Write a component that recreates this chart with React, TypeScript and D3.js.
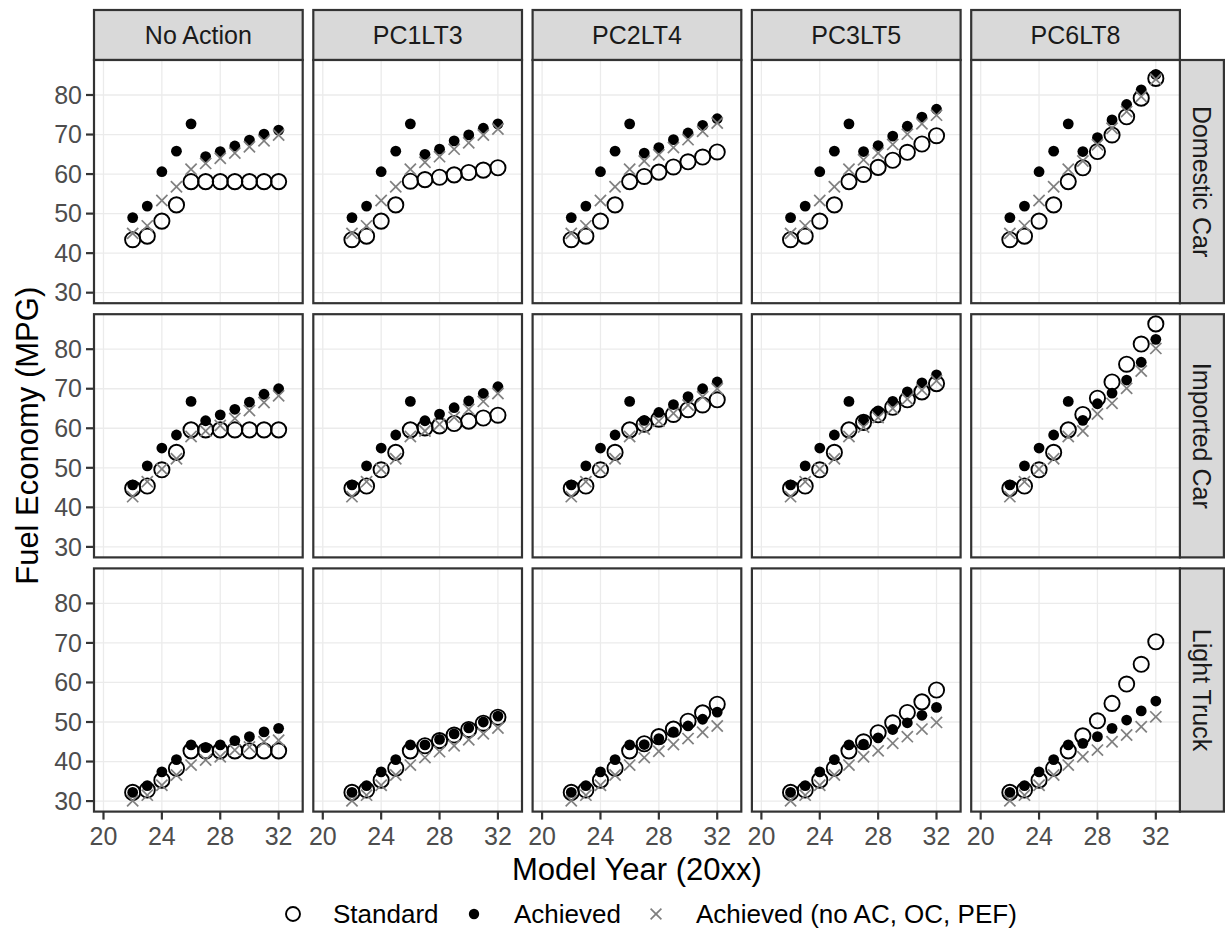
import React from "react";
import * as d3 from "d3";

const scenarios = ["No Action", "PC1LT3", "PC2LT4", "PC3LT5", "PC6LT8"];
const fleets = ["Domestic Car", "Imported Car", "Light Truck"];
const modelYears = [22, 23, 24, 25, 26, 27, 28, 29, 30, 31, 32];
const xTicks = [20, 24, 28, 32];
const yTicks = [30, 40, 50, 60, 70, 80];
const legendLabels = ["Standard", "Achieved", "Achieved (no AC, OC, PEF)"];

// rows: scenarios in order
const domesticStandard = [
  [43.4, 44.3, 48.1, 52.2, 58.1, 58.1, 58.1, 58.1, 58.1, 58.1, 58.1],
  [43.4, 44.3, 48.1, 52.2, 58.2, 58.6, 59.2, 59.8, 60.4, 61.0, 61.6],
  [43.4, 44.3, 48.1, 52.2, 58.1, 59.4, 60.5, 61.8, 63.1, 64.3, 65.6],
  [43.4, 44.3, 48.1, 52.2, 58.1, 59.9, 61.7, 63.5, 65.5, 67.6, 69.7],
  [43.4, 44.3, 48.1, 52.2, 58.1, 61.6, 65.7, 69.9, 74.5, 79.2, 84.2],
];
const domesticAchieved = [
  [49.0, 51.9, 60.6, 65.8, 72.7, 64.4, 65.7, 67.1, 68.6, 70.1, 71.1],
  [49.0, 51.9, 60.6, 65.8, 72.7, 65.0, 66.3, 68.4, 69.9, 71.6, 72.7],
  [49.0, 51.9, 60.6, 65.8, 72.7, 65.3, 66.7, 68.7, 70.4, 72.3, 74.0],
  [49.0, 51.9, 60.6, 65.8, 72.7, 65.7, 67.2, 69.6, 72.1, 74.4, 76.4],
  [49.0, 51.9, 60.6, 65.8, 72.7, 65.7, 69.2, 73.7, 77.6, 81.3, 85.2],
];
const domesticNoAc = [
  [45.0, 46.9, 53.3, 56.8, 61.2, 62.7, 64.0, 65.3, 66.9, 68.4, 69.9],
  [45.0, 46.9, 53.3, 56.8, 61.2, 63.0, 64.4, 66.3, 67.9, 69.9, 71.4],
  [45.0, 46.9, 53.3, 56.8, 61.2, 63.3, 64.9, 66.7, 68.7, 70.8, 72.9],
  [45.0, 46.9, 53.3, 56.8, 61.2, 63.6, 65.3, 67.5, 70.1, 72.7, 74.9],
  [45.0, 46.9, 53.3, 56.8, 61.2, 63.3, 67.4, 71.6, 75.8, 79.6, 84.0],
];

const importedStandard = [
  [44.8, 45.4, 49.5, 53.9, 59.6, 59.6, 59.6, 59.6, 59.6, 59.6, 59.6],
  [44.8, 45.4, 49.5, 53.9, 59.6, 60.1, 60.6, 61.2, 61.8, 62.6, 63.3],
  [44.8, 45.4, 49.5, 53.9, 59.6, 61.0, 62.3, 63.5, 64.7, 65.9, 67.2],
  [44.8, 45.4, 49.5, 53.9, 59.6, 61.5, 63.4, 65.3, 67.2, 69.2, 71.3],
  [44.8, 45.4, 49.5, 53.9, 59.6, 63.5, 67.6, 71.7, 76.2, 81.3, 86.4],
];
const importedAchieved = [
  [45.7, 50.5, 55.0, 58.3, 66.8, 61.9, 63.4, 64.8, 66.6, 68.6, 70.0],
  [45.7, 50.5, 55.0, 58.3, 66.8, 61.9, 63.6, 65.2, 66.9, 68.8, 70.5],
  [45.7, 50.5, 55.0, 58.3, 66.8, 62.0, 64.0, 66.0, 68.0, 70.0, 71.7],
  [45.7, 50.5, 55.0, 58.3, 66.8, 62.0, 64.4, 66.8, 69.2, 71.5, 73.5],
  [45.7, 50.5, 55.0, 58.3, 66.8, 62.0, 66.2, 68.9, 72.2, 76.7, 82.5],
];
const importedNoAc = [
  [42.7, 46.5, 49.7, 52.3, 57.9, 59.3, 60.7, 62.5, 64.5, 66.5, 68.2],
  [42.7, 46.5, 49.7, 52.3, 57.9, 59.3, 61.0, 62.8, 64.8, 66.8, 68.8],
  [42.7, 46.5, 49.7, 52.3, 57.9, 59.8, 61.8, 63.8, 65.9, 68.0, 70.0],
  [42.7, 46.5, 49.7, 52.3, 57.9, 60.3, 62.7, 65.0, 67.4, 69.7, 72.0],
  [42.7, 46.5, 49.7, 52.3, 57.9, 59.3, 63.6, 66.3, 70.1, 74.5, 80.2],
];

const truckStandard = [
  [32.2, 32.8, 35.3, 38.3, 42.7, 42.7, 42.7, 42.7, 42.7, 42.7, 42.7],
  [32.2, 32.8, 35.3, 38.3, 42.7, 44.0, 45.3, 46.7, 48.1, 49.7, 51.2],
  [32.2, 32.8, 35.3, 38.3, 42.7, 44.5, 46.3, 48.2, 50.2, 52.3, 54.5],
  [32.2, 32.8, 35.3, 38.3, 42.7, 45.0, 47.3, 49.8, 52.4, 55.1, 58.1],
  [32.2, 32.8, 35.3, 38.3, 42.7, 46.5, 50.3, 54.7, 59.6, 64.6, 70.3],
];
const truckAchieved = [
  [32.2, 33.9, 37.4, 40.5, 44.2, 43.5, 44.2, 45.3, 46.3, 47.5, 48.4],
  [32.2, 33.9, 37.4, 40.5, 44.2, 44.2, 45.6, 47.0, 48.5, 50.0, 51.5],
  [32.2, 33.9, 37.4, 40.5, 44.2, 44.3, 45.8, 47.5, 49.0, 50.7, 52.5],
  [32.2, 33.9, 37.4, 40.5, 44.2, 44.4, 46.0, 48.1, 49.8, 51.7, 53.7],
  [32.2, 33.9, 37.4, 40.5, 44.2, 44.6, 46.3, 48.4, 50.5, 52.8, 55.3],
];
const truckNoAc = [
  [30.1, 31.5, 34.0, 36.6, 39.1, 40.4, 41.2, 42.9, 43.7, 45.0, 45.4],
  [30.1, 31.5, 34.0, 36.6, 39.1, 41.0, 42.5, 44.0, 45.5, 47.0, 48.5],
  [30.1, 31.5, 34.0, 36.6, 39.1, 41.0, 42.6, 44.3, 45.8, 47.4, 49.0],
  [30.1, 31.5, 34.0, 36.6, 39.1, 41.2, 42.7, 44.6, 46.3, 48.2, 49.9],
  [30.1, 31.5, 34.0, 36.6, 39.1, 41.2, 42.9, 45.0, 46.7, 48.8, 51.3],
];

const standardByFleet = [domesticStandard, importedStandard, truckStandard];
const achievedByFleet = [domesticAchieved, importedAchieved, truckAchieved];
const noAcByFleet = [domesticNoAc, importedNoAc, truckNoAc];

const W = 1225;
const H = 932;
const FONT = "'Liberation Sans', Arial, Helvetica, sans-serif";

const panelLeft = 94;
const panelW = 208.7;
const colStep = 219.3;
const panelTop = 60;
const panelH = 243.2;
const rowStep = 254.2;
const stripH = 50;
const stripW = 44;

const x = d3.scaleLinear().domain([19.35, 33.65]).range([0, panelW]);
const y = d3.scaleLinear().domain([27.34, 88.85]).range([panelH, 0]);

const CROSS_COLOR = "#7f7f7f";

function Cross({ cx, cy, s, w }: { cx: number; cy: number; s: number; w: number }) {
  return (
    <g stroke={CROSS_COLOR} strokeWidth={w} strokeLinecap="butt">
      <line x1={cx - s} y1={cy - s} x2={cx + s} y2={cy + s} />
      <line x1={cx - s} y1={cy + s} x2={cx + s} y2={cy - s} />
    </g>
  );
}

function Panel({ fi, si }: { fi: number; si: number }) {
  const px = panelLeft + si * colStep;
  const py = panelTop + fi * rowStep;
  const std = standardByFleet[fi][si];
  const ach = achievedByFleet[fi][si];
  const noac = noAcByFleet[fi][si];
  return (
    <g transform={`translate(${px},${py})`}>
      <rect x={0} y={0} width={panelW} height={panelH} fill="white" />
      {xTicks.map((t) => (
        <line key={"gx" + t} x1={x(t)} x2={x(t)} y1={0} y2={panelH} stroke="#ebebeb" strokeWidth={1.3} />
      ))}
      {yTicks.map((t) => (
        <line key={"gy" + t} x1={0} x2={panelW} y1={y(t)} y2={y(t)} stroke="#ebebeb" strokeWidth={1.3} />
      ))}
      {modelYears.map((yr, i) => (
        <circle key={"s" + i} cx={x(yr)} cy={y(std[i])} r={7.6} fill="none" stroke="#000" strokeWidth={1.9} />
      ))}
      {modelYears.map((yr, i) => (
        <circle key={"a" + i} cx={x(yr)} cy={y(ach[i])} r={5.4} fill="#000" />
      ))}
      {modelYears.map((yr, i) => (
        <Cross key={"n" + i} cx={x(yr)} cy={y(noac[i])} s={5.6} w={1.7} />
      ))}
      <rect x={0} y={0} width={panelW} height={panelH} fill="none" stroke="#333" strokeWidth={2.2} />
      {fi === fleets.length - 1 &&
        xTicks.map((t) => (
          <g key={"tx" + t}>
            <line x1={x(t)} x2={x(t)} y1={panelH} y2={panelH + 8} stroke="#333" strokeWidth={2.2} />
            <text x={x(t)} y={panelH + 33} textAnchor="middle" fontSize={25} fill="#4d4d4d" fontFamily={FONT}>
              {t}
            </text>
          </g>
        ))}
      {si === 0 &&
        yTicks.map((t) => (
          <g key={"ty" + t}>
            <line x1={-8} x2={0} y1={y(t)} y2={y(t)} stroke="#333" strokeWidth={2.2} />
            <text x={-12} y={y(t)} dy="0.35em" textAnchor="end" fontSize={25} fill="#4d4d4d" fontFamily={FONT}>
              {t}
            </text>
          </g>
        ))}
    </g>
  );
}

export default function App() {
  const gridRight = panelLeft + (scenarios.length - 1) * colStep + panelW;
  const gridBottom = panelTop + (fleets.length - 1) * rowStep + panelH;
  const centerX = (panelLeft + gridRight) / 2;
  const centerY = (panelTop + gridBottom) / 2;
  const legendY = 914;
  const legendKeys = [293, 474, 656];
  return (
    <svg width={W} height={H} style={{ display: "block", position: "absolute", left: 0, top: 0 }}>
      <rect width={W} height={H} fill="white" />
      {scenarios.map((s, si) => {
        const px = panelLeft + si * colStep;
        return (
          <g key={"st" + s}>
            <rect x={px} y={panelTop - stripH} width={panelW} height={stripH} fill="#d9d9d9" stroke="#333" strokeWidth={2.2} />
            <text x={px + panelW / 2} y={panelTop - stripH / 2} dy="0.35em" textAnchor="middle" fontSize={25} fill="#1a1a1a" fontFamily={FONT}>
              {s}
            </text>
          </g>
        );
      })}
      {fleets.map((f, fi) => {
        const py = panelTop + fi * rowStep;
        return (
          <g key={"sr" + f}>
            <rect x={gridRight} y={py} width={stripW} height={panelH} fill="#d9d9d9" stroke="#333" strokeWidth={2.2} />
            <text
              transform={`translate(${gridRight + stripW / 2},${py + panelH / 2}) rotate(90)`}
              dy="0.35em"
              textAnchor="middle"
              fontSize={25}
              fill="#1a1a1a"
              fontFamily={FONT}
            >
              {f}
            </text>
          </g>
        );
      })}
      {fleets.map((f, fi) => scenarios.map((s, si) => <Panel key={f + s} fi={fi} si={si} />))}
      <text x={centerX} y={880} textAnchor="middle" fontSize={31} fill="#000" fontFamily={FONT}>
        Model Year (20xx)
      </text>
      <text transform={`translate(38,${centerY}) rotate(-90)`} textAnchor="middle" fontSize={31} fill="#000" fontFamily={FONT}>
        Fuel Economy (MPG)
      </text>
      <circle cx={legendKeys[0]} cy={legendY} r={7} fill="none" stroke="#000" strokeWidth={1.9} />
      <circle cx={legendKeys[1]} cy={legendY} r={5.2} fill="#000" />
      <Cross cx={legendKeys[2]} cy={legendY} s={5.4} w={1.7} />
      {legendLabels.map((l, i) => (
        <text key={l} x={legendKeys[i] + 40} y={legendY} dy="0.35em" fontSize={26} fill="#000" fontFamily={FONT}>
          {l}
        </text>
      ))}
    </svg>
  );
}
